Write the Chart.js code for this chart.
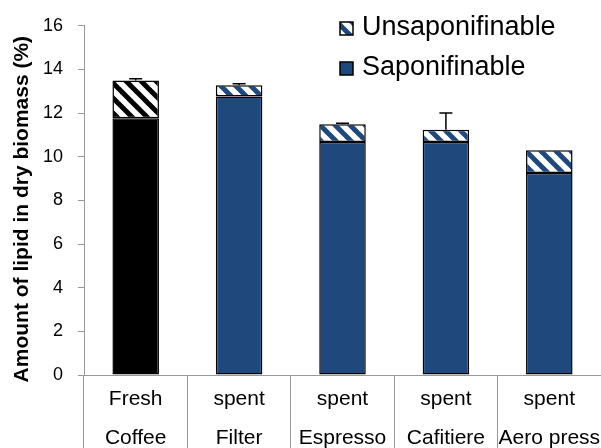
<!DOCTYPE html>
<html>
<head>
<meta charset="utf-8">
<script src="https://cdn.jsdelivr.net/npm/chart.js@4.4.1/dist/chart.umd.min.js"></script>
<style>
  html, body { margin: 0; padding: 0; background: #fff; }
  #wrap { width: 601px; height: 448px; position: relative; }
</style>
</head>
<body>
<div id="wrap"><canvas id="chart"></canvas></div>
<script>
// --- data ---
const categories = [
  ['Fresh', 'Coffee'],
  ['spent', 'Filter'],
  ['spent', 'Espresso'],
  ['spent', 'Cafitiere'],
  ['spent', 'Aero press'],
];
const saponifiable   = [11.76, 12.76, 10.68, 10.68, 9.25];
const unsaponifiable = [1.73, 0.52, 0.81, 0.56, 1.05];
const errorValues    = [0.08, 0.06, 0.05, 0.76, 0];
const yMin = 0, yMax = 16, yStep = 2;

const FONT = "'Liberation Sans', Arial, sans-serif";
const BLUE = '#1F497D';
const AXIS = '#999999';

// diagonal "\" stripes on white
function stripes(color) {
  const s = 15;
  const c = document.createElement('canvas');
  c.width = s; c.height = s;
  const g = c.getContext('2d');
  g.fillStyle = '#fff';
  g.fillRect(0, 0, s, s);
  g.strokeStyle = color;
  g.lineWidth = 5;
  for (let k = -1; k <= 1; k++) {
    g.beginPath();
    g.moveTo(k * s - 2, -2);
    g.lineTo(k * s + s + 2, s + 2);
    g.stroke();
  }
  return g.createPattern(c, 'repeat');
}
const blueStripes = stripes(BLUE);
const blackStripes = stripes('#000');

const errorBarPlugin = {
  id: 'errorBars',
  afterDatasetsDraw(chart) {
    const { ctx, scales: { y } } = chart;
    const meta = chart.getDatasetMeta(1);
    ctx.save();
    ctx.strokeStyle = '#000';
    ctx.lineWidth = 1.5;
    meta.data.forEach((bar, i) => {
      if (!errorValues[i]) return;
      const total = saponifiable[i] + unsaponifiable[i];
      const y0 = y.getPixelForValue(total);
      const y1 = y.getPixelForValue(total + errorValues[i]);
      ctx.beginPath();
      ctx.moveTo(bar.x, y0);
      ctx.lineTo(bar.x, y1);
      ctx.moveTo(bar.x - 6.5, y1);
      ctx.lineTo(bar.x + 6.5, y1);
      ctx.stroke();
    });
    ctx.restore();
  },
};

const legendPlugin = {
  id: 'floatLegend',
  afterDraw(chart) {
    const ctx = chart.ctx;
    const items = [
      { text: 'Unsaponifinable', fill: blueStripes, base: 35 },
      { text: 'Saponifinable', fill: BLUE, base: 75 },
    ];
    ctx.save();
    ctx.font = '27px ' + FONT;
    ctx.textBaseline = 'alphabetic';
    items.forEach(it => {
      ctx.fillStyle = it.fill;
      ctx.fillRect(340, it.base - 13, 13, 13);
      ctx.strokeStyle = '#000';
      ctx.lineWidth = 1.5;
      ctx.strokeRect(340, it.base - 13, 13, 13);
      ctx.fillStyle = '#000';
      ctx.fillText(it.text, 362, it.base);
    });
    ctx.restore();
  },
};

new Chart(document.getElementById('chart'), {
  type: 'bar',
  data: {
    labels: categories,
    datasets: [
      {
        label: 'Saponifinable',
        data: saponifiable,
        backgroundColor: ['#000', BLUE, BLUE, BLUE, BLUE],
        borderColor: '#000',
        borderWidth: 1.5,
        borderSkipped: false,
      },
      {
        label: 'Unsaponifinable',
        data: unsaponifiable,
        backgroundColor: [blackStripes, blueStripes, blueStripes, blueStripes, blueStripes],
        borderColor: '#000',
        borderWidth: 1.5,
        borderSkipped: false,
      },
    ],
  },
  options: {
    responsive: true,
    maintainAspectRatio: false,
    animation: false,
    devicePixelRatio: 1,
    layout: { padding: { top: 24, right: 0, left: 0, bottom: 0 } },
    datasets: { bar: { categoryPercentage: 1, barPercentage: 0.45 } },
    plugins: {
      legend: { display: false },
      tooltip: { enabled: false },
    },
    scales: {
      x: {
        stacked: true,
        grid: {
          offset: true,
          drawOnChartArea: false,
          tickLength: 73,
          color: AXIS,
        },
        border: { color: AXIS },
        ticks: {
          color: '#000',
          padding: -68,
          maxRotation: 0,
          autoSkip: false,
          font: { family: FONT, size: 21, lineHeight: 1.857 },
        },
        afterFit(scale) { scale.height = 73; },
      },
      y: {
        stacked: true,
        min: yMin,
        max: yMax,
        grid: {
          drawOnChartArea: false,
          tickLength: 6,
          color: AXIS,
        },
        border: { color: AXIS },
        ticks: {
          stepSize: yStep,
          color: '#000',
          padding: 15,
          font: { family: FONT, size: 18 },
        },
        title: {
          display: true,
          text: 'Amount of lipid in dry biomass (%)   ',
          color: '#000',
          padding: { top: 10, bottom: 0 },
          font: { family: FONT, size: 21, weight: 'bold' },
        },
        afterFit(scale) { scale.width = 84; },
      },
    },
  },
  plugins: [errorBarPlugin, legendPlugin],
});
</script>
</body>
</html>
